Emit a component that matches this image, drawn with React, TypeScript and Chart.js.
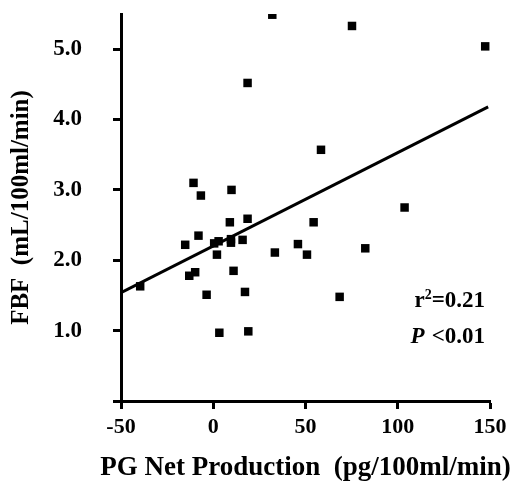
import React, { useEffect, useRef } from 'react';
import { Chart, registerables } from 'chart.js';

Chart.register(...registerables);

// PG net production (pg/100ml/min)
const PG_X = [
  32, 75.2, 147.4, 58.4, 103.7, 54.4, 18.6, -10.7, -6.7, 9.9, 9.0, 18.6, -8,
  -15.2, 0.5, 2.9, 9.6, 9.6, 15.9, 2, 33.4, -9.8, -13, 11, -3.6, 17.2, 3.3, 19,
  -39.6, 45.9, 50.8, 82.4, 68.5,
];
// FBF (mL/100ml/min)
const FBF_Y = [
  5.49, 5.33, 5.04, 3.57, 2.75, 2.54, 4.52, 3.1, 2.92, 3.0, 2.54, 2.59, 2.35,
  2.22, 2.24, 2.27, 2.3, 2.25, 2.29, 2.08, 2.11, 1.83, 1.78, 1.85, 1.51, 1.55,
  0.97, 0.99, 1.63, 2.23, 2.08, 2.17, 1.48,
];
// regression line end points
const FIT_X = [-50, 149];
const FIT_Y = [1.54, 4.18];

const X_MIN = -50;
const X_MAX = 150;
const X_STEP = 50;
const Y_MIN = 0;
const Y_MAX = 5.5;
const Y_STEP = 1;

const X_TITLE = 'PG Net Production  (pg/100ml/min)';
const Y_TITLE = 'FBF  (mL/100ml/min)';
const R2_TEXT = '=0.21';
const P_TEXT = '<0.01';

const SERIF = '"Liberation Serif", "Times New Roman", Times, serif';

const annotPlugin = {
  id: 'annot',
  afterDraw(chart: any) {
    const { ctx, chartArea } = chart;
    ctx.save();
    ctx.fillStyle = '#000';

    // x axis title (drawn without width compression)
    ctx.textAlign = 'center';
    ctx.textBaseline = 'middle';
    ctx.font = `bold 27px ${SERIF}`;
    ctx.fillText(X_TITLE, (chartArea.left + chartArea.right) / 2, 468);

    ctx.textBaseline = 'alphabetic';
    ctx.textAlign = 'right';
    const rx = chartArea.right - 5;
    const y1 = 307;
    const y2 = 343;
    ctx.font = `bold 23px ${SERIF}`;
    ctx.fillText(R2_TEXT, rx, y1);
    const w1 = ctx.measureText(R2_TEXT).width;
    ctx.font = `bold 14px ${SERIF}`;
    ctx.fillText('2', rx - w1, y1 - 8);
    const w2 = ctx.measureText('2').width;
    ctx.font = `bold 23px ${SERIF}`;
    ctx.fillText('r', rx - w1 - w2, y1);

    ctx.fillText(P_TEXT, rx, y2);
    const w3 = ctx.measureText(P_TEXT).width;
    ctx.font = `italic bold 23px ${SERIF}`;
    ctx.fillText('P', rx - w3 - 7, y2);
    ctx.restore();
  },
};

export default function App() {
  const ref = useRef<HTMLCanvasElement | null>(null);
  useEffect(() => {
    if (!ref.current) return;
    const tickFontX = { family: SERIF, size: 22, weight: 'bold' as const };
    const tickFontY = { family: SERIF, size: 23, weight: 'bold' as const };
    const chart = new Chart(ref.current, {
      type: 'scatter',
      data: {
        datasets: [
          {
            type: 'scatter',
            data: PG_X.map((x, i) => ({ x, y: FBF_Y[i] })),
            pointStyle: 'rect',
            pointRadius: 6,
            pointBorderWidth: 0,
            backgroundColor: '#000',
            borderColor: '#000',
          },
          {
            type: 'line',
            data: FIT_X.map((x, i) => ({ x, y: FIT_Y[i] })),
            borderColor: '#000',
            borderWidth: 3,
            pointRadius: 0,
            fill: false,
          } as any,
        ],
      },
      options: {
        animation: false,
        responsive: false,
        layout: { padding: { left: 0, top: 14, right: 34, bottom: 0 } },
        plugins: { legend: { display: false }, tooltip: { enabled: false } },
        scales: {
          x: {
            type: 'linear',
            min: X_MIN,
            max: X_MAX,
            ticks: {
              stepSize: X_STEP,
              color: '#000',
              font: tickFontX,
              padding: 5,
              maxRotation: 0,
            },
            grid: {
              drawOnChartArea: false,
              drawTicks: true,
              tickLength: 8,
              tickWidth: 3,
              tickColor: '#000',
            },
            border: { color: '#000', width: 3 },
            title: { display: false },
            afterFit: (s: any) => {
              s.height = 80;
              s.paddingLeft = 0;
              s.paddingRight = 0;
            },
          },
          y: {
            type: 'linear',
            min: Y_MIN,
            max: Y_MAX,
            ticks: {
              stepSize: Y_STEP,
              includeBounds: false,
              color: '#000',
              font: tickFontY,
              padding: 31,
              callback: (v: any) => (Number(v) === 0 ? '' : Number(v).toFixed(1)),
            },
            grid: {
              drawOnChartArea: false,
              drawTicks: true,
              tickLength: 8,
              tickWidth: 3,
              tickColor: '#000',
            },
            border: { color: '#000', width: 3 },
            title: {
              display: true,
              text: Y_TITLE,
              color: '#000',
              font: { family: SERIF, size: 25, weight: 'bold', lineHeight: 1 },
              padding: { top: 9, bottom: 0 },
            },
            afterFit: (s: any) => {
              s.width = 121;
              s.paddingTop = 0;
              s.paddingBottom = 0;
            },
          },
        },
      },
      plugins: [annotPlugin],
    } as any);
    return () => chart.destroy();
  }, []);
  return (
    <div style={{ position: 'fixed', left: 0, top: 0, width: 524, height: 481, background: '#fff' }}>
      <canvas ref={ref} width={524} height={481} style={{ width: 524, height: 481 }} />
    </div>
  );
}
